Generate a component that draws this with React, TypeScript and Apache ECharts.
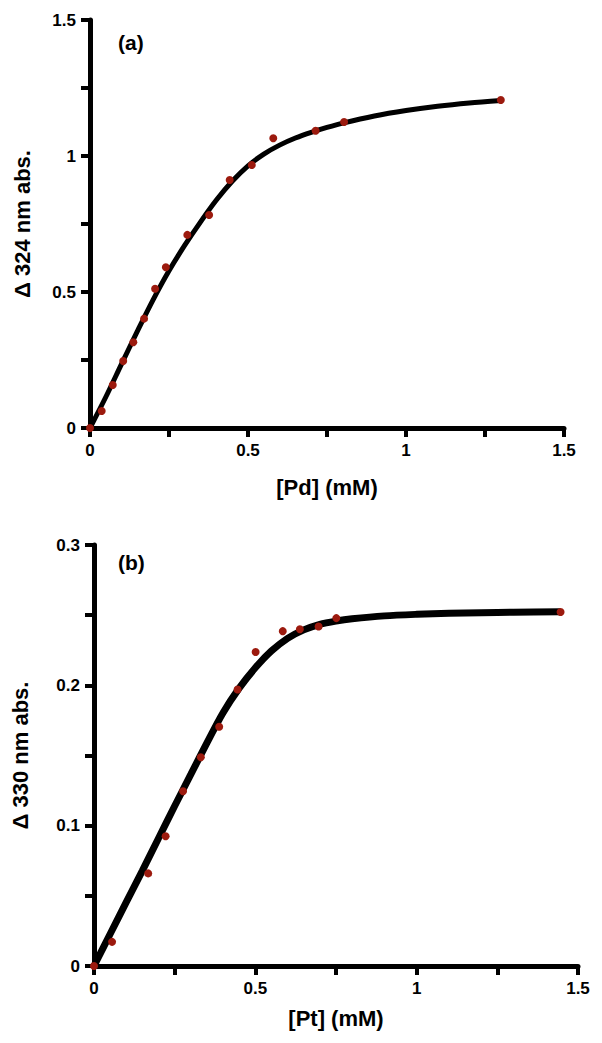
import React, { useEffect, useRef } from "react";
import * as echarts from "echarts";

// Panel (a): Pd titration, Δ 324 nm absorbance
const pdConc = [0, 0.037, 0.072, 0.105, 0.137, 0.171, 0.206, 0.24, 0.308, 0.377, 0.442, 0.512, 0.58, 0.714, 0.804, 1.3];
const pdAbs = [0, 0.0625, 0.158, 0.246, 0.315, 0.402, 0.512, 0.591, 0.71, 0.783, 0.912, 0.967, 1.065, 1.093, 1.125, 1.206];
const pdFitX = [0, 0.05, 0.1, 0.15, 0.2, 0.25, 0.3, 0.35, 0.4, 0.45, 0.5, 0.55, 0.6, 0.65, 0.7, 0.75, 0.8, 0.9, 1.0, 1.1, 1.2, 1.3];
const pdFitY = [0, 0.114, 0.236, 0.356, 0.472, 0.578, 0.672, 0.758, 0.838, 0.907, 0.964, 1.007, 1.04, 1.066, 1.087, 1.105, 1.121, 1.147, 1.167, 1.183, 1.195, 1.204];

// Panel (b): Pt titration, Δ 330 nm absorbance
const ptConc = [0, 0.056, 0.168, 0.222, 0.276, 0.331, 0.388, 0.445, 0.501, 0.585, 0.638, 0.696, 0.751, 1.446];
const ptAbs = [0, 0.0172, 0.066, 0.0924, 0.1245, 0.1488, 0.1705, 0.197, 0.2238, 0.2386, 0.24, 0.2419, 0.2479, 0.2523];
const ptFitX = [0, 0.05, 0.1, 0.15, 0.2, 0.25, 0.3, 0.35, 0.4, 0.45, 0.5, 0.55, 0.6, 0.65, 0.7, 0.75, 0.8, 0.9, 1.0, 1.1, 1.2, 1.3, 1.446];
const ptFitY = [0, 0.0228, 0.0455, 0.068, 0.091, 0.114, 0.1365, 0.159, 0.1805, 0.198, 0.2125, 0.2245, 0.2335, 0.2395, 0.2435, 0.2458, 0.2474, 0.2495, 0.2506, 0.2513, 0.2518, 0.2521, 0.2525];

const RED = "#9c1a0e";

function zip(xs: number[], ys: number[]) {
  return xs.map((x, i) => [x, ys[i]]);
}

// ticks every half-step; labels only on the major steps
function axis(min: number, max: number, major: number, name: string, nameGap: number) {
  return {
    type: "value",
    min,
    max,
    interval: major / 2,
    splitLine: { show: true, lineStyle: { color: "rgba(0,0,0,0)" } },
    axisLine: { show: true, lineStyle: { color: "black", width: 5 } },
    axisTick: { show: true, length: 9, lineStyle: { color: "black", width: 4 } },
    axisLabel: {
      color: "#000",
      fontWeight: "bold",
      fontSize: 17,
      margin: 14,
      formatter: (v: number) => {
        const r = v / major;
        return Math.abs(r - Math.round(r)) < 1e-6 ? String(Number(v.toFixed(3))) : "";
      },
    },
    name,
    nameLocation: "middle",
    nameGap,
    nameTextStyle: { color: "#000", fontWeight: "bold", fontSize: 22 },
  };
}

function buildOption(
  label: string,
  grid: any,
  xAxis: any,
  yAxis: any,
  fitX: number[],
  fitY: number[],
  px: number[],
  py: number[],
  lineWidth: number
) {
  return {
    animation: false,
    title: { text: label, left: 118, top: 32, padding: 0, textStyle: { color: "#000", fontWeight: "bold", fontSize: 21 } },
    grid,
    xAxis,
    yAxis,
    series: [
      { type: "line", data: zip(fitX, fitY), smooth: 0.3, showSymbol: false, lineStyle: { color: "#000", width: lineWidth } },
      { type: "scatter", data: zip(px, py), symbolSize: 8, z: 5, itemStyle: { color: RED, opacity: 1 } },
    ],
  };
}

const optionA = buildOption(
  "(a)",
  { left: 90, top: 20, width: 474, height: 408 },
  axis(0, 1.5, 0.5, "[Pd] (mM)", 48),
  axis(0, 1.5, 0.5, "Δ 324 nm abs.", 57),
  pdFitX,
  pdFitY,
  pdConc,
  pdAbs,
  5
);

const optionB = buildOption(
  "(b)",
  { left: 94, top: 25, width: 484, height: 421 },
  axis(0, 1.5, 0.5, "[Pt] (mM)", 41),
  axis(0, 0.3, 0.1, "Δ 330 nm abs.", 63),
  ptFitX,
  ptFitY,
  ptConc,
  ptAbs,
  7
);

function Panel({ option, top, height }: { option: any; top: number; height: number }) {
  const ref = useRef<HTMLDivElement>(null);
  useEffect(() => {
    const chart = echarts.init(ref.current!, null, { renderer: "svg" });
    chart.setOption(option);
    return () => chart.dispose();
  }, [option]);
  return <div ref={ref} style={{ position: "absolute", left: 0, top, width: 602, height }} />;
}

export default function App() {
  useEffect(() => {
    document.body.style.margin = "0";
  }, []);
  return (
    <div style={{ position: "absolute", left: 0, top: 0, width: 602, height: 1043, background: "#fff" }}>
      <Panel option={optionA} top={0} height={520} />
      <Panel option={optionB} top={520} height={523} />
    </div>
  );
}
